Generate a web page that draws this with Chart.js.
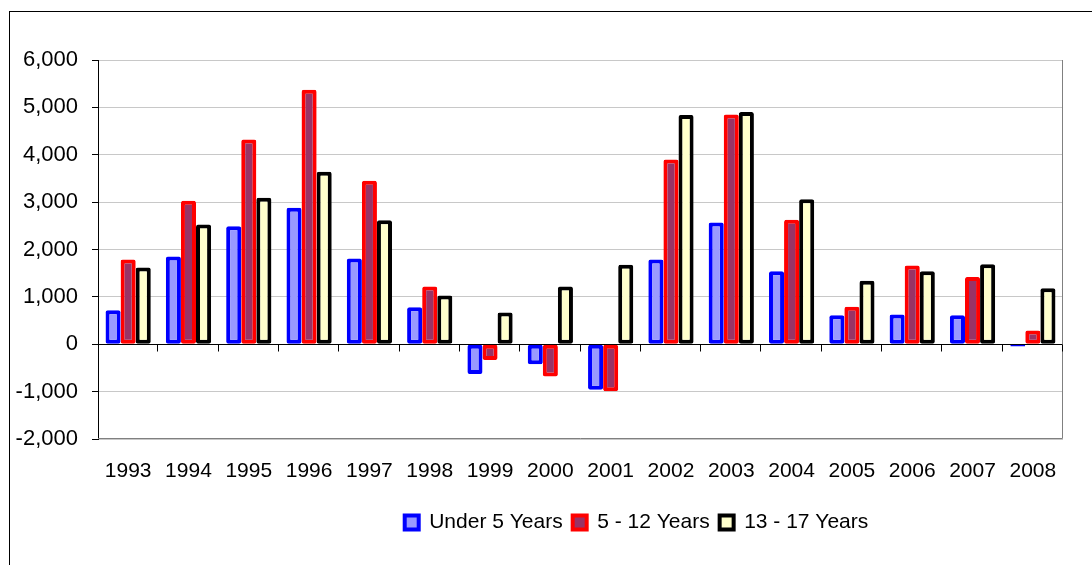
<!DOCTYPE html>
<html>
<head>
<meta charset="utf-8">
<title>Change by age group, 1993-2008</title>
<script src="https://cdn.jsdelivr.net/npm/chart.js@4.4.0/dist/chart.umd.min.js"></script>
<style>
  html, body { margin: 0; padding: 0; background: #fff; overflow: hidden; }
  #wrap { position: relative; width: 1092px; height: 565px; }
  #frame { position: absolute; left: 9px; top: 11px; width: 1200px; height: 700px; border: 1px solid #000; }
  canvas { position: absolute; left: 0; top: 0; }
</style>
</head>
<body>
<div id="wrap">
  <div id="frame"></div>
  <canvas id="chart" width="1092" height="565"></canvas>
</div>
<script>
// data
const years = ['1993', '1994', '1995', '1996', '1997', '1998', '1999', '2000',
               '2001', '2002', '2003', '2004', '2005', '2006', '2007', '2008'];
const under5    = [720, 1850, 2490, 2880, 1810, 780, -630, -420, -960, 1790, 2570, 1540, 610, 630, 610, -50];
const age5to12  = [1790, 3030, 4320, 5370, 3450, 1220, -330, -680, -990, 3900, 4850, 2630, 790, 1660, 1420, 290];
const age13to17 = [1620, 2530, 3090, 3640, 2620, 1030, 670, 1220, 1680, 4840, 4900, 3060, 1340, 1540, 1690, 1180];
const yTicks = [-2000, -1000, 0, 1000, 2000, 3000, 4000, 5000, 6000];

const legendShift = 105;

Chart.defaults.font.family = '"Liberation Sans", Arial, sans-serif';
Chart.defaults.font.size = 21;
Chart.defaults.color = '#000';

// plot border, zero-axis ticks, legend position
const plotFrame = {
    id: 'plotFrame',
    afterLayout(chart) {
        chart.legend.left += legendShift;
        chart.legend.right += legendShift;
    },
    beforeDatasetsDraw(chart) {
        const { ctx, chartArea: a } = chart;
        ctx.save();
        ctx.strokeStyle = '#808080';
        ctx.lineWidth = 1;
        ctx.beginPath();
        ctx.moveTo(a.left, Math.round(a.bottom) - 0.5);
        ctx.lineTo(Math.round(a.right) - 0.5, Math.round(a.bottom) - 0.5);
        ctx.lineTo(Math.round(a.right) - 0.5, a.top);
        ctx.stroke();
        ctx.restore();
    },
    afterDatasetsDraw(chart) {
        const { ctx, chartArea: a } = chart;
        const y0 = Math.round(chart.scales.y.getPixelForValue(0)) + 0.5;
        const step = (a.right - a.left) / years.length;
        ctx.save();
        ctx.strokeStyle = '#000';
        ctx.lineWidth = 1;
        ctx.beginPath();
        for (let i = 1; i <= years.length; i++) {
            const px = Math.round(a.left + i * step) - 0.5;
            ctx.moveTo(px, y0);
            ctx.lineTo(px, y0 + 7);
        }
        ctx.stroke();
        ctx.restore();
    }
};

const barStyle = {
    borderWidth: 4,
    borderSkipped: false,
    borderRadius: 2,
    categoryPercentage: 0.75,
    barPercentage: 1
};

new Chart(document.getElementById('chart'), {
    type: 'bar',
    data: {
        labels: years,
        datasets: [
            { label: 'Under 5 Years', data: under5, backgroundColor: '#9999FF', borderColor: '#0000FF', ...barStyle },
            { label: '5 - 12 Years', data: age5to12, backgroundColor: '#993366', borderColor: '#FF0000', ...barStyle },
            { label: '13 - 17 Years', data: age13to17, backgroundColor: '#FFFFCC', borderColor: '#000000', ...barStyle }
        ]
    },
    options: {
        responsive: false,
        animation: false,
        layout: { padding: { top: 60, right: 29, bottom: 22, left: 0 } },
        scales: {
            x: {
                grid: { display: false, drawTicks: false },
                border: { display: false },
                ticks: { padding: 20, maxRotation: 0, autoSkip: false },
                afterFit: s => { s.height = 63; }
            },
            y: {
                min: yTicks[0],
                max: yTicks[yTicks.length - 1],
                afterBuildTicks: s => { s.ticks = yTicks.map(v => ({ value: v })); },
                afterFit: s => { s.width = 98; },
                border: { display: true, color: '#000', width: 1 },
                grid: {
                    color: c => (c.tick && c.tick.value === 0 ? '#000' : '#c8c8c8'),
                    tickColor: '#000',
                    tickLength: 6
                },
                ticks: { padding: 14, font: { size: 22 }, callback: v => v.toLocaleString('en-US') }
            }
        },
        plugins: {
            legend: {
                position: 'bottom',
                labels: { boxWidth: 14, boxHeight: 14, padding: 10 }
            },
            tooltip: { enabled: false }
        }
    },
    plugins: [plotFrame]
});
</script>
</body>
</html>
